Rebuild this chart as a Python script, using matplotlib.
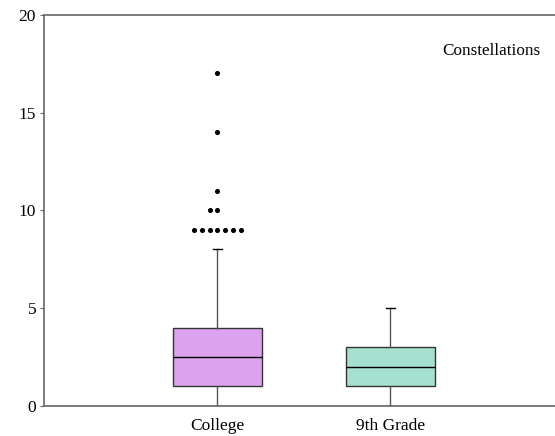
import numpy as np
import matplotlib.pyplot as plt

plt.rcParams['font.family'] = ['Liberation Serif', 'DejaVu Serif']

groups = ["College", "9th Grade"]
box_colors = ["#DCA2EE", "#A6E0D0"]
q1 = [1, 1]
medians = [2.5, 2]
q3 = [4, 3]
whisker_low = [0, 0]
whisker_high = [8, 5]
college_outliers = [9, 9, 9, 9, 9, 9, 9, 10, 10, 11, 14, 17]
grade9_outliers = []

outliers = [college_outliers, grade9_outliers]

stats = []
for i, g in enumerate(groups):
    stats.append({
        "label": g,
        "q1": q1[i], "med": medians[i], "q3": q3[i],
        "whislo": whisker_low[i], "whishi": whisker_high[i],
        "fliers": [],
    })

fig = plt.figure(figsize=(5.55, 4.36), dpi=100)
ax = fig.add_axes([0.080, 0.069, 0.935, 0.897])

positions = [1, 2]
bp = ax.bxp(stats, positions=positions, widths=0.515, patch_artist=True,
            showfliers=False, capwidths=0.05,
            medianprops=dict(color="black", linewidth=1),
            boxprops=dict(edgecolor="#333333", linewidth=1),
            whiskerprops=dict(color="#555555", linewidth=1),
            capprops=dict(color="black", linewidth=1))
for patch, c in zip(bp["boxes"], box_colors):
    patch.set_facecolor(c)

# stacked duplicate outliers are spread sideways like in the original
step = 0.045
for pos, vals in zip(positions, outliers):
    vals = np.array(vals)
    for v in np.unique(vals):
        n = np.sum(vals == v)
        offs = (np.arange(n) - n // 2) * step
        ax.scatter(pos + offs, [v] * n, s=7, color="black", zorder=3)

ax.set_xlim(0, 3)
ax.set_ylim(0, 20)
ax.set_yticks([0, 5, 10, 15, 20])
ax.set_xticks(positions)
ax.set_xticklabels(groups)
ax.tick_params(axis="x", length=0, labelsize=12.5, pad=9)
ax.tick_params(axis="y", length=3, labelsize=12.5, color="#666666", pad=3)

ax.spines["right"].set_visible(False)
for s in ["left", "bottom", "top"]:
    ax.spines[s].set_color("#666666")
    ax.spines[s].set_linewidth(1.2)

ax.text(0.767, 0.898, "Constellations", transform=ax.transAxes, fontsize=12.3)

plt.savefig("out.png")
